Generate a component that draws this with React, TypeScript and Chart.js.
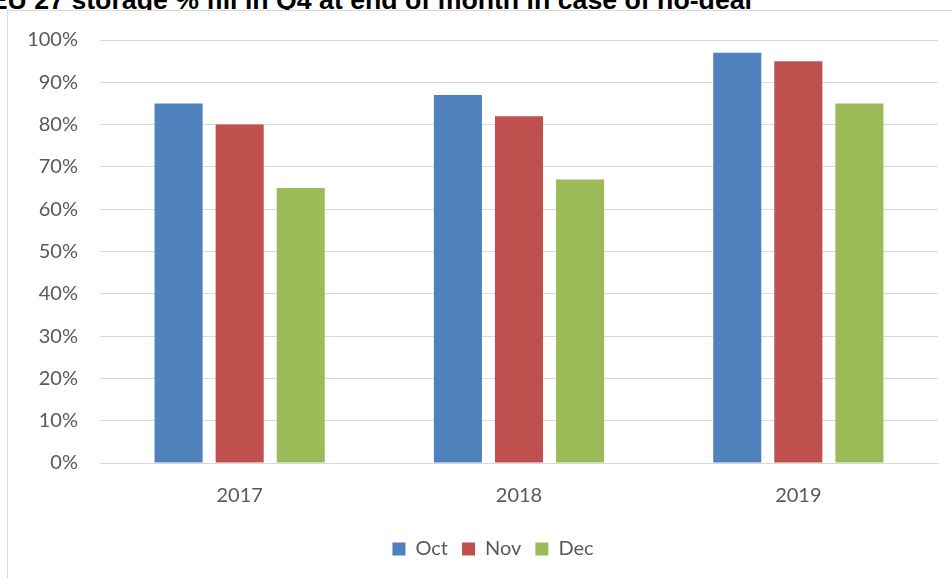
import React, { useEffect, useRef } from "react";
import { Chart, registerables } from "chart.js";

Chart.register(...registerables);

const TITLE = "EU 27 storage % fill in Q4 at end of month in case of no-deal";
const categories = ["2017", "2018", "2019"];
const octValues = [85, 87, 97];
const novValues = [80, 82, 95];
const decValues = [65, 67, 85];
const seriesNames = ["Oct", "Nov", "Dec"];
const seriesColors = ["#4F81BD", "#C0504D", "#9BBB59"];

const shiftLegend = {
  id: "shiftLegend",
  afterLayout(chart: any) {
    const l = chart.legend;
    if (l) {
      l.left += 20;
      l.right += 20;
    }
  },
};

export default function App() {
  const canvasRef = useRef<HTMLCanvasElement | null>(null);

  useEffect(() => {
    document.body.style.margin = "0";
    const canvas = canvasRef.current;
    if (!canvas) return;
    const font = { family: "Lato", size: 20 };
    const values = [octValues, novValues, decValues];
    const chart = new Chart(canvas, {
      type: "bar",
      data: {
        labels: categories,
        datasets: seriesNames.map((name, i) => ({
          label: name,
          data: values[i],
          backgroundColor: seriesColors[i],
          borderWidth: 0,
          categoryPercentage: 0.656,
          barPercentage: 0.787,
        })),
      },
      plugins: [shiftLegend],
      options: {
        animation: false,
        responsive: false,
        maintainAspectRatio: false,
        devicePixelRatio: 1,
        layout: { padding: { left: 0, top: 29, right: 40, bottom: 9 } },
        plugins: {
          title: { display: false },
          tooltip: { enabled: false },
          legend: {
            display: true,
            position: "bottom",
            labels: {
              boxWidth: 13,
              boxHeight: 13,
              padding: 14,
              color: "#595959",
              font,
            },
          },
        },
        scales: {
          x: {
            grid: { display: false },
            border: { display: true, color: "#d9d9d9", width: 1 },
            ticks: { color: "#595959", font, padding: 13 },
            afterFit: (s: any) => {
              s.height = 62;
            },
          },
          y: {
            min: 0,
            max: 100,
            grid: { color: "#d9d9d9", lineWidth: 1, drawTicks: false },
            border: { display: false },
            ticks: {
              stepSize: 10,
              color: "#595959",
              font,
              padding: 22,
              callback: (v: any) => v + "%",
            },
            afterFit: (s: any) => {
              s.width = 92;
              s.paddingTop = 0;
              s.paddingBottom = 0;
            },
          },
        },
      },
    });
    return () => chart.destroy();
  }, []);

  return (
    <div
      style={{
        position: "fixed",
        left: 0,
        top: 0,
        width: 952,
        height: 578,
        overflow: "hidden",
        background: "#ffffff",
      }}
    >
      <div
        style={{
          position: "absolute",
          right: 200,
          top: -13,
          whiteSpace: "nowrap",
          fontFamily: "'Liberation Sans', Arial, sans-serif",
          fontWeight: "bold",
          fontSize: 26.7,
          lineHeight: "27px",
          color: "#000000",
        }}
      >
        {TITLE}
      </div>
      <div
        style={{
          position: "absolute",
          left: 7,
          top: 10,
          width: 1000,
          height: 600,
          border: "1px solid #d9d9d9",
          background: "#ffffff",
        }}
      >
        <canvas
          ref={canvasRef}
          width={970}
          height={567}
          style={{ position: "absolute", left: 0, top: 0, width: 970, height: 567 }}
        />
      </div>
    </div>
  );
}
